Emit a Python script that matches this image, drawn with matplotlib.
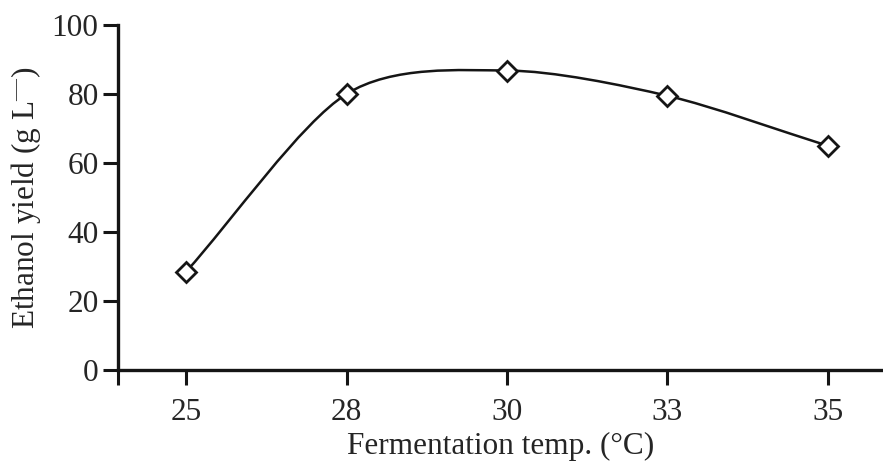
import numpy as np
import matplotlib
matplotlib.use("Agg")
import matplotlib.pyplot as plt
from matplotlib.path import Path
from matplotlib.patches import PathPatch

# temperatures (categories) and ethanol yield
temps = ['25', '28', '30', '33', '35']
ethanol_yield = [28.5, 80.0, 86.8, 79.5, 65.0]

plt.rcParams['font.family'] = ['Liberation Serif', 'DejaVu Serif']
plt.rcParams['mathtext.fontset'] = 'custom'
plt.rcParams['mathtext.rm'] = 'Liberation Serif'

fig = plt.figure(figsize=(8.83, 4.63), dpi=100)
ax = fig.add_axes([0.1336, 0.2009, 0.8664, 0.7451])

x = np.arange(len(temps))
y = np.array(ethanol_yield)

# smooth line through the points (Catmull-Rom drawn as cubic Bezier segments)
pts = np.column_stack([x, y])
ext = np.vstack([2 * pts[0] - pts[1], pts, 2 * pts[-1] - pts[-2]])
verts = [tuple(pts[0])]
codes = [Path.MOVETO]
for i in range(1, len(ext) - 2):
    p0, p1, p2, p3 = ext[i - 1], ext[i], ext[i + 1], ext[i + 2]
    c1 = p1 + (p2 - p0) / 7
    c2 = p2 - (p3 - p1) / 7
    verts += [tuple(c1), tuple(c2), tuple(p2)]
    codes += [Path.CURVE4] * 3
ax.add_patch(PathPatch(Path(verts, codes), facecolor='none', edgecolor='#151515', lw=1.8))

ax.plot(x, y, linestyle='none', marker='D', markersize=10.5, markerfacecolor='white',
        markeredgecolor='#151515', markeredgewidth=2, zorder=3)

ax.set_xlim(-0.425, 4.345)
ax.set_ylim(0, 100)
ax.set_xticks(x)
ax.set_xticklabels(temps)
ax.set_xticks([-0.425], minor=True)
ax.set_yticks(range(0, 101, 20))

for side in ['top', 'right']:
    ax.spines[side].set_visible(False)
for side in ['left', 'bottom']:
    ax.spines[side].set_linewidth(2.4)
    ax.spines[side].set_color('#151515')

ax.tick_params(axis='both', which='both', direction='out', length=11, width=2.2,
               color='#151515', labelsize=22.5, labelcolor='#252525')
ax.tick_params(axis='x', pad=9)
ax.tick_params(axis='y', pad=3)

ax.set_xlabel('Fermentation temp. (°C)', fontsize=22.5, color='#252525', labelpad=4)
ax.set_ylabel('Ethanol yield (g L$^{—}$)', fontsize=22.5, color='#252525', labelpad=6)

fig.savefig('out.png', dpi=100)
